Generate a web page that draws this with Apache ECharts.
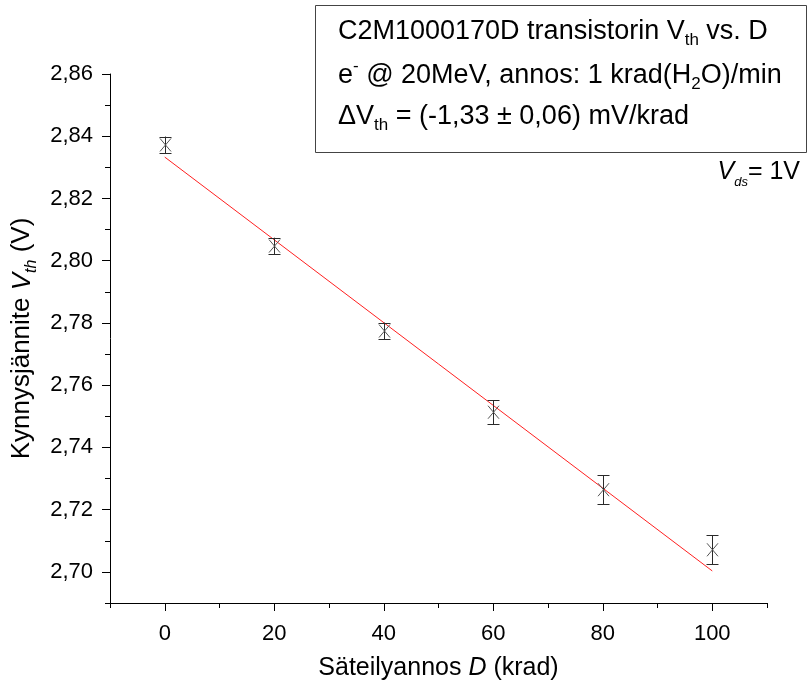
<!DOCTYPE html>
<html>
<head>
<meta charset="utf-8">
<script src="https://cdn.jsdelivr.net/npm/echarts@6/dist/echarts.min.js"></script>
<style>
  html, body { margin: 0; padding: 0; background: #ffffff; }
  #chart { width: 809px; height: 690px; }
</style>
</head>
<body>
<div id="chart"></div>
<script>
// Threshold voltage of the C2M1000170D MOSFET vs. absorbed dose
const doses = [0, 20, 40, 60, 80, 100];                              // krad
const vth = [2.8372, 2.8047, 2.7774, 2.7513, 2.7264, 2.7071];         // V
const vthErr = [0.0027, 0.0027, 0.0027, 0.0038, 0.0046, 0.0046];      // V
// Linear fit end points
const fitDoses = [0, 100];
const fitVth = [2.8333, 2.7003];
// Axis ticks
const xMajorTicks = [0, 20, 40, 60, 80, 100];
const yMajorTicks = [2.70, 2.72, 2.74, 2.76, 2.78, 2.80, 2.82, 2.84, 2.86];

const FONT = 'Liberation Sans, Arial, sans-serif';
const INK = '#000000';

const measData = doses.map((d, i) => [d, vth[i], vthErr[i]]);
const fitData = fitDoses.map((d, i) => [d, fitVth[i]]);

const comma = (v, digits) => v.toFixed(digits).replace('.', ',');

function richStyles(size, subRatio) {
  const s = Math.round(size * (subRatio || 0.62));
  return {
    n: { fontFamily: FONT, fontSize: size, color: INK, lineHeight: size + 8 },
    i: { fontFamily: FONT, fontSize: size, color: INK, lineHeight: size + 8, fontStyle: 'italic' },
    sub: { fontFamily: FONT, fontSize: s, color: INK, lineHeight: s, verticalAlign: 'bottom' },
    isub: { fontFamily: FONT, fontSize: s, color: INK, lineHeight: s, verticalAlign: 'bottom', fontStyle: 'italic' },
    sup: { fontFamily: FONT, fontSize: s, color: INK, lineHeight: s, verticalAlign: 'top' }
  };
}

const chart = echarts.init(document.getElementById('chart'), null, { renderer: 'canvas' });

const axisLine = { show: true, onZero: false, lineStyle: { color: '#000', width: 1 } };

const option = {
  backgroundColor: '#ffffff',
  animation: false,
  grid: { left: 110, right: 42, top: 74, bottom: 87, containLabel: false },
  xAxis: [
    {
      type: 'value', position: 'bottom', min: -10, max: 110,
      axisLine: axisLine,
      axisTick: { show: true, inside: false, length: 8, customValues: xMajorTicks, lineStyle: { color: '#000' } },
      axisLabel: {
        show: true, customValues: xMajorTicks, margin: 20,
        fontFamily: FONT, fontSize: 22, color: INK,
        formatter: v => String(v)
      },
      splitLine: { show: false },
      name: '{n|Säteilyannos }{i|D}{n| (krad)}',
      nameLocation: 'middle', nameGap: 49,
      nameTextStyle: { rich: richStyles(25) }
    },
    {
      // minor ticks every 10 krad
      type: 'value', position: 'bottom', min: -10, max: 110, interval: 10,
      axisLine: { show: false, onZero: false },
      axisTick: { show: true, length: 5, lineStyle: { color: '#000' } },
      axisLabel: { show: false },
      splitLine: { show: false }
    }
  ],
  yAxis: [
    {
      type: 'value', position: 'left', min: 2.69, max: 2.86,
      axisLine: axisLine,
      axisTick: { show: true, inside: false, length: 8, customValues: yMajorTicks, lineStyle: { color: '#000' } },
      axisLabel: {
        show: true, customValues: yMajorTicks, margin: 17,
        fontFamily: FONT, fontSize: 22, color: INK,
        formatter: v => comma(v, 2)
      },
      splitLine: { show: false },
      name: '{n|Kynnysjännite }{i|V}{isub|th}{n| (V)}',
      nameLocation: 'middle', nameGap: 67, nameRotate: 90,
      nameTextStyle: { rich: richStyles(26) }
    },
    {
      // minor ticks every 0.01 V
      type: 'value', position: 'left', min: 2.69, max: 2.86, interval: 0.01,
      axisLine: { show: false, onZero: false },
      axisTick: { show: true, length: 5, lineStyle: { color: '#000' } },
      axisLabel: { show: false },
      splitLine: { show: false }
    }
  ],
  series: [
    {
      name: 'fit', type: 'line', xAxisIndex: 0, yAxisIndex: 0,
      data: fitData, showSymbol: false, symbol: 'none',
      lineStyle: { color: '#ff2020', width: 1 }, z: 2, silent: true
    },
    {
      name: 'Vth', type: 'custom', xAxisIndex: 0, yAxisIndex: 0,
      data: measData, z: 3, silent: true,
      renderItem(params, api) {
        const x = api.value(0), y = api.value(1), e = api.value(2);
        const c = api.coord([x, y]);
        const top = api.coord([x, y + e]);
        const bot = api.coord([x, y - e]);
        const cx = Math.round(c[0]) + 0.5;
        const cap = 6, mx = 5.5, my = 6.5;
        const bar = { stroke: '#2a2a2a', lineWidth: 1 };
        const mark = { stroke: '#555555', lineWidth: 1 };
        return {
          type: 'group',
          children: [
            { type: 'line', shape: { x1: cx, y1: top[1], x2: cx, y2: bot[1] }, style: bar },
            { type: 'line', shape: { x1: cx - cap, y1: Math.round(top[1]) + 0.5, x2: cx + cap, y2: Math.round(top[1]) + 0.5 }, style: bar },
            { type: 'line', shape: { x1: cx - cap, y1: Math.round(bot[1]) + 0.5, x2: cx + cap, y2: Math.round(bot[1]) + 0.5 }, style: bar },
            { type: 'line', shape: { x1: cx - mx, y1: c[1] - my, x2: cx + mx, y2: c[1] + my }, style: mark },
            { type: 'line', shape: { x1: cx - mx, y1: c[1] + my, x2: cx + mx, y2: c[1] - my }, style: mark }
          ]
        };
      }
    }
  ],
  graphic: [
    {
      type: 'rect', left: 315, top: 5, z: 10,
      shape: { x: 0, y: 0, width: 491, height: 147 },
      style: { fill: '#ffffff', stroke: '#444444', lineWidth: 1 }
    },
    {
      type: 'text', left: 338, top: 18, z: 11,
      style: { text: '{n|C2M1000170D transistorin V}{sub|th}{n| vs. D}', rich: richStyles(27) }
    },
    {
      type: 'text', left: 338, top: 58, z: 11,
      style: { text: '{n|e}{sup|-}{n| @ 20MeV, annos: 1 krad(H}{sub|2}{n|O)/min}', rich: richStyles(27) }
    },
    {
      type: 'text', left: 338, top: 103, z: 11,
      style: { text: '{n|ΔV}{sub|th}{n| = (-1,33 ± 0,06) mV/krad}', rich: richStyles(27) }
    },
    {
      type: 'text', right: 9, top: 160, z: 11,
      style: { text: '{i|V}{isub|ds}{n|= 1V}', rich: richStyles(25, 0.5) }
    }
  ]
};

chart.setOption(option);
</script>
</body>
</html>
